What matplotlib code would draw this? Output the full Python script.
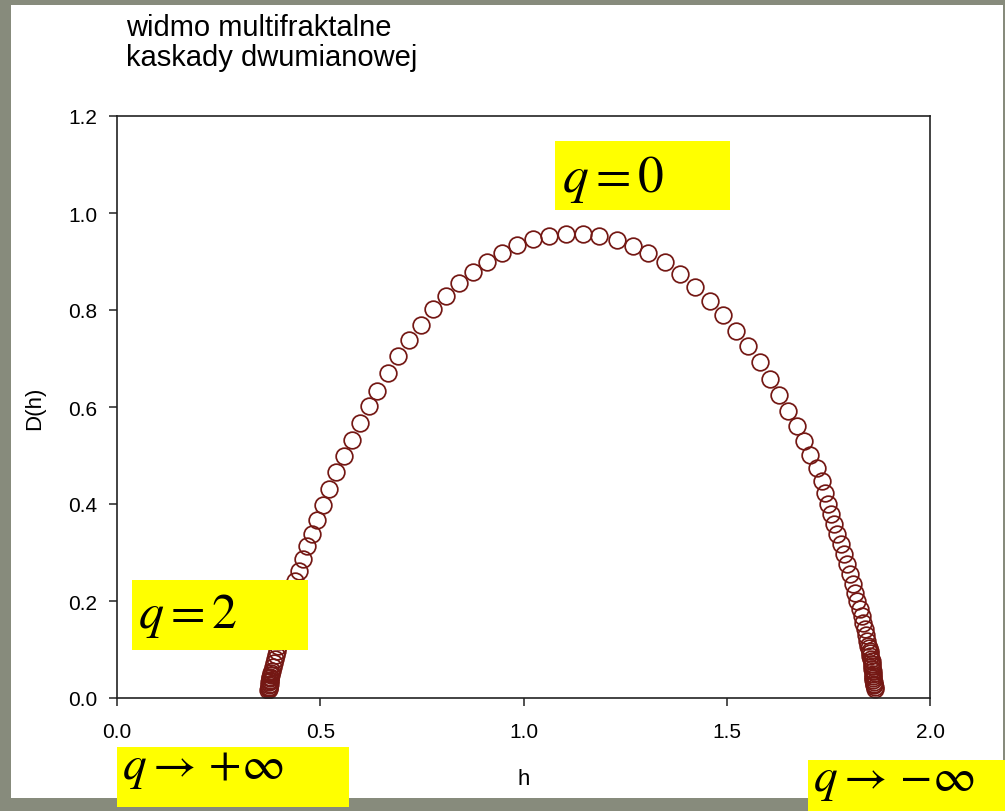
import numpy as np
import matplotlib.pyplot as plt
from matplotlib.patches import Rectangle

# multifractal spectrum of the binomial cascade, read point by point
h = [0.3727, 0.3739, 0.3752, 0.3764, 0.3776, 0.3788, 0.3813, 0.3838, 0.3862, 0.3887,
     0.3911, 0.3936, 0.3961, 0.3985, 0.4010, 0.4047, 0.4084, 0.4133, 0.4182, 0.4244,
     0.4305, 0.4379, 0.4485, 0.4568, 0.4667, 0.4790, 0.4913, 0.5060, 0.5215, 0.5387,
     0.5584, 0.5774, 0.5978, 0.6199, 0.6403, 0.6674, 0.6920, 0.7191, 0.7471, 0.7766,
     0.8093, 0.8421, 0.8750, 0.9095, 0.9464, 0.9833, 1.0234, 1.0635, 1.1038, 1.1456,
     1.1865, 1.2293, 1.2701, 1.3070, 1.3481, 1.3850, 1.4219, 1.4588, 1.4915, 1.5228,
     1.5523, 1.5818, 1.6064, 1.6293, 1.6514, 1.6721, 1.6900, 1.7048, 1.7213, 1.7336,
     1.7417, 1.7483, 1.7557, 1.7638, 1.7720, 1.7803, 1.7884, 1.7951, 1.8032, 1.8098,
     1.8155, 1.8216, 1.8266, 1.8315, 1.8352, 1.8389, 1.8426, 1.8462, 1.8487, 1.8512,
     1.8536, 1.8561, 1.8573, 1.8586, 1.8598, 1.8610, 1.8623, 1.8635]
D = [0.0186, 0.0227, 0.0289, 0.0351, 0.0412, 0.0474, 0.0557, 0.0639, 0.0722, 0.0804,
     0.0887, 0.0969, 0.1072, 0.1175, 0.1299, 0.1423, 0.1567, 0.1711, 0.1876, 0.2041,
     0.2227, 0.2419, 0.2625, 0.2866, 0.3134, 0.3381, 0.3670, 0.3979, 0.4309, 0.4660,
     0.4990, 0.5326, 0.5670, 0.6027, 0.6336, 0.6701, 0.7058, 0.7388, 0.7691, 0.8021,
     0.8295, 0.8557, 0.8790, 0.8996, 0.9175, 0.9340, 0.9464, 0.9536, 0.9567, 0.9567,
     0.9520, 0.9449, 0.9326, 0.9169, 0.8984, 0.8742, 0.8468, 0.8186, 0.7887, 0.7573,
     0.7264, 0.6928, 0.6577, 0.6247, 0.5924, 0.5614, 0.5305, 0.5016, 0.4736, 0.4464,
     0.4227, 0.4000, 0.3794, 0.3588, 0.3381, 0.3175, 0.2969, 0.2763, 0.2557, 0.2351,
     0.2165, 0.2000, 0.1835, 0.1691, 0.1546, 0.1423, 0.1299, 0.1175, 0.1072, 0.0969,
     0.0866, 0.0763, 0.0660, 0.0557, 0.0454, 0.0371, 0.0289, 0.0227]

# the packed points near both ends of the spectrum (large |q|)
h_end = [0.3722, 0.3730, 0.3735, 0.3747, 0.3759, 0.3771, 0.3783,
         1.8640, 1.8630, 1.8617, 1.8605, 1.8592, 1.8580, 1.8567, 1.8549, 1.8524, 1.8499]
D_end = [0.0155, 0.0206, 0.0258, 0.0320, 0.0381, 0.0443, 0.0515,
         0.0186, 0.0258, 0.0330, 0.0412, 0.0505, 0.0608, 0.0711, 0.0814, 0.0918, 0.1021]

x_ticks = [0.0, 0.5, 1.0, 1.5, 2.0]
y_ticks = [0.0, 0.2, 0.4, 0.6, 0.8, 1.0, 1.2]
title = 'widmo multifraktalne\nkaskady dwumianowej'
q_labels = [r'$q=0$', r'$q=2$',
            r'$q\rightarrow\,{+}\infty$', r'$q\rightarrow\,{-}\infty$']

plt.rcParams['font.family'] = ['Liberation Sans', 'DejaVu Sans']
plt.rcParams['mathtext.fontset'] = 'stix'

W, H = 1005, 812
fig = plt.figure(figsize=(W / 100, H / 100), dpi=100, facecolor='#878b7c')

def px(x0, y0, x1, y1):
    # pixel box (top-left origin) -> figure fraction rectangle
    return (x0 / W, 1 - y1 / H, (x1 - x0) / W, (y1 - y0) / H)

# white slide panel
x, y, w, hh = px(11, 6, 1003, 799)
fig.patches.append(Rectangle((x, y), w, hh, transform=fig.transFigure,
                             facecolor='white', edgecolor='none', zorder=-1))

ax = fig.add_axes([117 / W, 1 - 699 / H, (930 - 117) / W, (699 - 117) / H])
ax.set_facecolor('white')
style = dict(linestyle='none', marker='o', markersize=12, markerfacecolor='none',
             markeredgecolor='#741814', markeredgewidth=1.25)
ax.plot(h, D, **style)
ax.plot(h_end, D_end, **style)

ax.set_xlim(0, 2.0)
ax.set_ylim(0, 1.2)
ax.set_xticks(x_ticks)
ax.set_yticks(y_ticks)
ax.set_xticklabels(['%.1f' % v for v in x_ticks])
ax.set_yticklabels(['%.1f' % v for v in y_ticks])
ax.tick_params(direction='out', length=6, width=1.1, labelsize=15, color='#222222')
ax.tick_params(axis='x', pad=11)
ax.tick_params(axis='y', pad=8)
ax.tick_params(top=False, right=False)
for s in ax.spines.values():
    s.set_linewidth(1.2)
    s.set_color('#222222')
ax.set_xlabel('h', fontsize=16, labelpad=20)
ax.set_ylabel('D(h)', fontsize=16, labelpad=17)

fig.text(126 / W, 1 - 14 / H, title, fontsize=21, linespacing=1.1,
         ha='left', va='top')

# yellow q annotations
boxes = [(555, 142, 730, 211), (132, 581, 308, 651),
         (117, 748, 349, 808), (808, 761, 1005, 812)]
text_pos = [(562, 192), (138, 628), (122, 779), (813, 791)]
sizes = [37, 36, 34, 34]
for (bx0, by0, bx1, by1), (tx, ty), lab, fs in zip(boxes, text_pos, q_labels, sizes):
    x, y, w, hh = px(bx0, by0, bx1, by1)
    fig.patches.append(Rectangle((x, y), w, hh, transform=fig.transFigure,
                                 facecolor='#ffff00', edgecolor='none', zorder=5))
    fig.text(tx / W, 1 - ty / H, lab, fontsize=fs, ha='left', va='baseline',
             zorder=6)

fig.savefig('out.png', dpi=100, facecolor=fig.get_facecolor())
